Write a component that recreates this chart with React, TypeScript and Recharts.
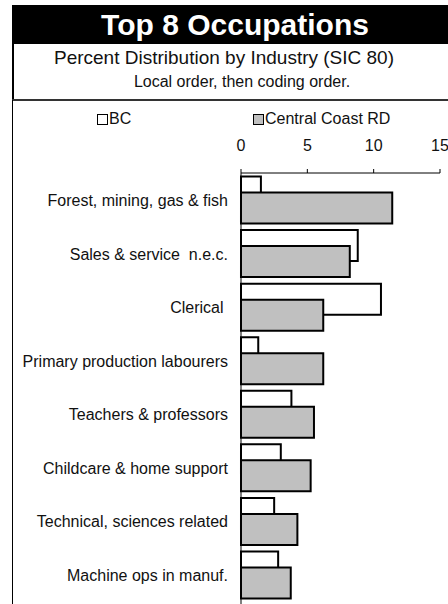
import { BarChart, Bar, XAxis, YAxis } from 'recharts';

const occupations = [
  'Forest, mining, gas & fish',
  'Sales & service\u00a0 n.e.c.',
  'Clerical\u00a0',
  'Primary production labourers',
  'Teachers & professors',
  'Childcare & home support',
  'Technical, sciences related',
  'Machine ops in manuf.',
];
const bcValues = [1.5, 8.8, 10.55, 1.3, 3.8, 3.0, 2.5, 2.8];
const ccValues = [11.4, 8.2, 6.2, 6.2, 5.5, 5.25, 4.25, 3.75];
const xTicks = [0, 5, 10, 15];
const seriesNames = ['BC', 'Central Coast RD'];

const data = occupations.map((name, i) => ({ name, bc: bcValues[i], cc: ccValues[i] }));

const font = '"Liberation Sans", Arial, sans-serif';

export default function App() {
  return (
    <div
      style={{
        position: 'absolute',
        left: 0,
        top: 0,
        width: 448,
        height: 604,
        overflow: 'hidden',
        background: '#fff',
        fontFamily: font,
      }}
    >
      {/* header band */}
      <div style={{ position: 'absolute', left: 12, top: 5, width: 436, height: 39, background: '#000' }} />
      <div
        style={{
          position: 'absolute',
          left: 35,
          width: 400,
          top: 7,
          textAlign: 'center',
          color: '#fff',
          fontWeight: 'bold',
          fontSize: 30,
          lineHeight: '36px',
        }}
      >
        Top 8 Occupations
      </div>
      <div style={{ position: 'absolute', left: 12, top: 44, width: 2, height: 57, background: '#000' }} />
      <div style={{ position: 'absolute', left: 12, top: 99, width: 436, height: 2, background: '#333' }} />
      <div style={{ position: 'absolute', left: 12, top: 100, width: 1, height: 504, background: '#000' }} />
      <div style={{ position: 'absolute', left: 0, width: 448, top: 47, textAlign: 'center', fontSize: 19, lineHeight: '22px', color: '#111' }}>
        Percent Distribution by Industry (SIC 80)
      </div>
      <div style={{ position: 'absolute', left: 36, width: 412, top: 73, textAlign: 'center', fontSize: 16, lineHeight: '18px', color: '#111' }}>
        Local order, then coding order.
      </div>

      {/* legend */}
      {seriesNames.map((s, i) => (
        <div
          key={s}
          style={{
            position: 'absolute',
            left: i === 0 ? 97 : 253,
            top: 110,
            display: 'flex',
            alignItems: 'center',
            fontSize: 16,
            lineHeight: '18px',
            color: '#111',
          }}
        >
          <span
            style={{
              display: 'inline-block',
              width: 9,
              height: 9,
              border: '1.5px solid #000',
              background: i === 0 ? '#fff' : '#c0c0c0',
              marginRight: 1,
            }}
          />
          {s}
        </div>
      ))}

      <div style={{ position: 'absolute', left: 0, top: 0 }}>
        <BarChart
          width={448}
          height={606}
          data={data}
          layout="vertical"
          margin={{ top: 143, right: 8, bottom: 0, left: 0 }}
          barSize={31}
          barGap={-15}
        >
          <XAxis
            type="number"
            orientation="top"
            domain={[0, 15]}
            ticks={xTicks}
            height={30}
            tickSize={4}
            tickMargin={18}
            stroke="#000"
            tick={{ fill: '#111', fontSize: 16, fontFamily: font }}
          />
          <YAxis
            type="category"
            dataKey="name"
            width={241}
            tickLine={false}
            tickSize={0}
            tickMargin={13}
            padding={{ top: 0.5, bottom: 4 }}
            stroke="#000"
            interval={0}
            tick={{ fill: '#111', fontSize: 16, fontFamily: font }}
          />
          <Bar dataKey="bc" name={seriesNames[0]} fill="#fff" stroke="#000" strokeWidth={2} isAnimationActive={false} />
          <Bar dataKey="cc" name={seriesNames[1]} fill="#c0c0c0" stroke="#000" strokeWidth={2} isAnimationActive={false} />
        </BarChart>
      </div>
    </div>
  );
}
